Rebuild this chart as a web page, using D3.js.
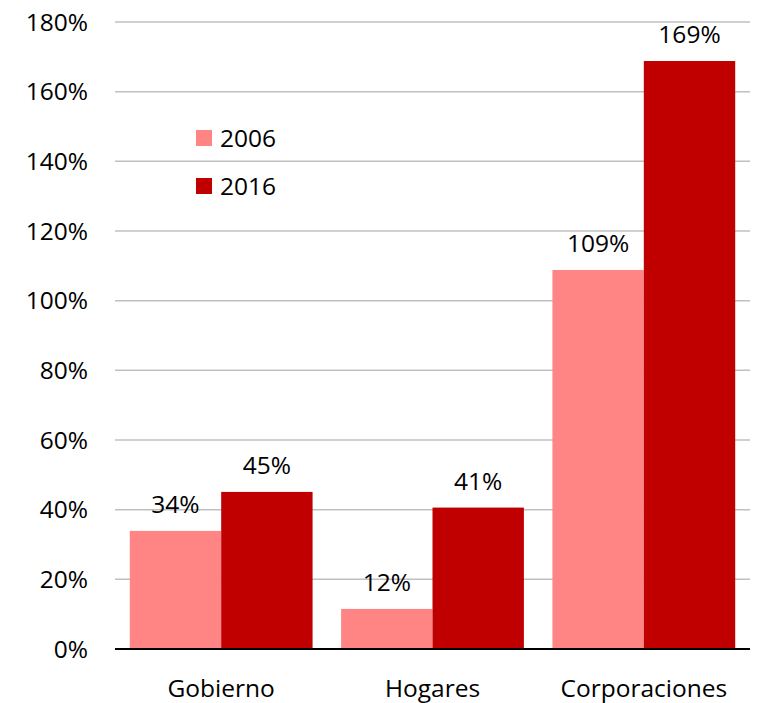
<!DOCTYPE html>
<html>
<head>
<meta charset="utf-8">
<script src="https://d3js.org/d3.v7.min.js"></script>
<style>
  body { margin: 0; background: #fff; }
  text { font-family: "Open Sans", "Noto Sans", sans-serif; fill: #000; }
</style>
</head>
<body>
<div class="chart"></div>
<script>
  // data
  const categories = ["Gobierno", "Hogares", "Corporaciones"];
  const years = ["2006", "2016"];
  const values2006 = [33.9, 11.5, 108.8];
  const values2016 = [45.1, 40.6, 168.8];
  const yTicks = [0, 20, 40, 60, 80, 100, 120, 140, 160, 180];
  const colors = ["#FF8585", "#C00000"];

  const width = 758, height = 703;
  const margin = { top: 22, right: 8, bottom: 54, left: 115 };
  const fontSize = "24.5px";

  const svg = d3.select(".chart").append("svg")
    .attr("width", width)
    .attr("height", height);

  const x = d3.scaleBand()
    .domain(categories)
    .range([margin.left, width - margin.right])
    .paddingInner(0.135)
    .paddingOuter(0.07);

  const xSub = d3.scaleBand()
    .domain(years)
    .range([0, x.bandwidth()]);

  const y = d3.scaleLinear()
    .domain([0, 180])
    .range([height - margin.bottom, margin.top]);

  const color = d3.scaleOrdinal().domain(years).range(colors);

  // gridlines
  svg.append("g")
    .selectAll("line")
    .data(yTicks.filter(d => d > 0))
    .join("line")
    .attr("x1", margin.left)
    .attr("x2", width - margin.right)
    .attr("y1", d => y(d))
    .attr("y2", d => y(d))
    .attr("stroke", "#c0c0c0")
    .attr("stroke-width", 1.5);

  // y tick labels
  svg.append("g")
    .selectAll("text")
    .data(yTicks)
    .join("text")
    .attr("x", 88)
    .attr("y", d => y(d))
    .attr("dy", "0.36em")
    .attr("text-anchor", "end")
    .style("font-size", fontSize)
    .text(d => d + "%");

  const rows = [];
  categories.forEach((c, i) => {
    rows.push({ cat: c, year: "2006", value: values2006[i] });
    rows.push({ cat: c, year: "2016", value: values2016[i] });
  });

  // bars
  svg.append("g")
    .selectAll("rect")
    .data(rows)
    .join("rect")
    .attr("x", d => x(d.cat) + xSub(d.year))
    .attr("y", d => y(d.value))
    .attr("width", xSub.bandwidth())
    .attr("height", d => y(0) - y(d.value))
    .attr("fill", d => color(d.year));

  // value labels
  svg.append("g")
    .selectAll("text")
    .data(rows)
    .join("text")
    .attr("x", d => x(d.cat) + xSub(d.year) + xSub.bandwidth() / 2)
    .attr("y", d => y(d.value) - 18)
    .attr("text-anchor", "middle")
    .style("font-size", fontSize)
    .text(d => Math.round(d.value) + "%");

  // x axis line
  svg.append("line")
    .attr("x1", margin.left)
    .attr("x2", width - margin.right)
    .attr("y1", y(0))
    .attr("y2", y(0))
    .attr("stroke", "#000")
    .attr("stroke-width", 2);

  // category labels
  svg.append("g")
    .selectAll("text")
    .data(categories)
    .join("text")
    .attr("x", d => x(d) + x.bandwidth() / 2)
    .attr("y", 697)
    .attr("text-anchor", "middle")
    .style("font-size", fontSize)
    .text(d => d);

  // legend
  const legend = svg.append("g")
    .selectAll("g")
    .data(years)
    .join("g")
    .attr("transform", (d, i) => `translate(196, ${130 + i * 48})`);

  legend.append("rect")
    .attr("width", 16)
    .attr("height", 16)
    .attr("fill", d => color(d));

  legend.append("text")
    .attr("x", 24)
    .attr("y", 8)
    .attr("dy", "0.36em")
    .style("font-size", fontSize)
    .text(d => d);
</script>
</body>
</html>
